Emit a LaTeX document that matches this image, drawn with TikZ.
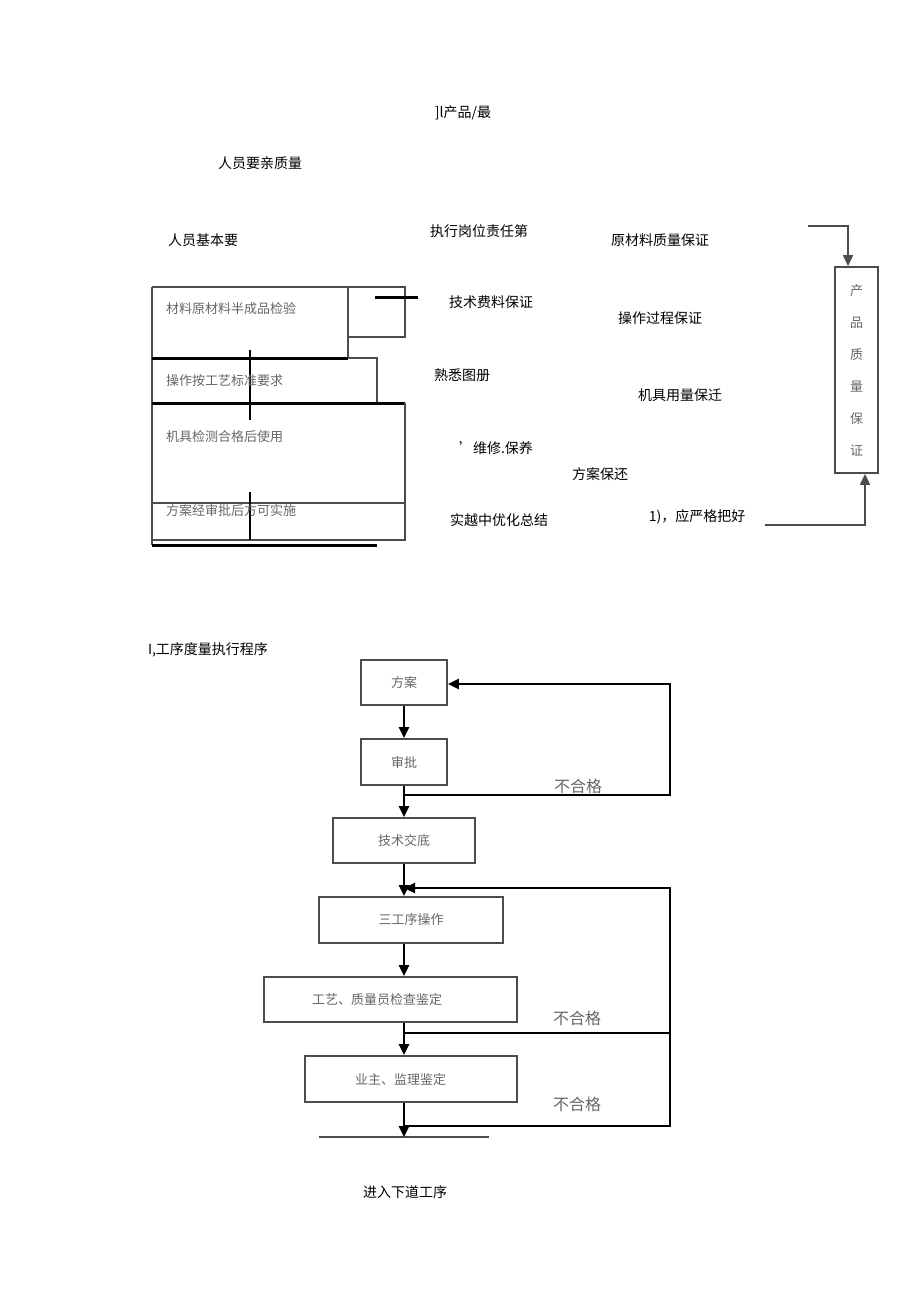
\documentclass[tikz,border=0pt]{standalone}
\usepackage{fontspec}
\setmainfont{Noto Sans CJK SC}
\usetikzlibrary{arrows.meta}
\begin{document}
\begin{tikzpicture}[x=1pt,y=-1pt,
 every node/.style={font=\fontsize{14}{16}\selectfont},
 lbl/.style={inner sep=0},
 gl/.style={inner sep=0,text=black!60,font=\fontsize{13}{15}\selectfont},
 bx/.style={draw=black!70,line width=1.8pt},
 thick line/.style={line width=3pt},
 ar/.style={line width=2.5pt,-{Triangle[length=11pt,width=10pt]}},
 fb/.style={line width=2.3pt}]
\useasboundingbox (0,0) rectangle (920,1301);
% texts top
\node[lbl] (t0) at (463,113) {]l产品/最};
\node[lbl] (t1) at (260,163) {人员要亲质量};
\node[lbl] (t2) at (203,240) {人员基本要};
\node[lbl] (t3) at (479,231) {执行岗位责任第};
\node[lbl] (t4) at (660,240) {原材料质量保证};
\node[lbl] (t5) at (491,302) {技术费料保证};
\node[lbl] (t6) at (660,318) {操作过程保证};
\node[lbl] (t7) at (462,375) {熟悉图册};
\node[lbl] (t8) at (680,395) {机具用量保迁};
\node[lbl] (t9) at (496,448) {'维修.保养};
\node[lbl] (t10) at (600,474) {方案保还};
\node[lbl] (t11) at (499,520) {实越中优化总结};
\node[lbl] (t12) at (697,517) {1)，应严格把好};
\node[lbl] (t13) at (208,650) {I,工序度量执行程序};
% left stacked boxes
\draw[bx] (152,287) -- (348,287) -- (348,358);
\draw[bx] (152,287) -- (152,545);
\draw[bx] (348,287) rectangle (405,337);
\draw[thick line] (375,297) -- (418,297);
\draw[thick line] (152,358) -- (348,358);
\draw[bx] (348,358) -- (377,358) -- (377,403);
\draw[thick line] (152,403) -- (405,403);
\draw[bx] (405,403) -- (405,540) -- (152,540);
\draw[bx] (152,503) -- (405,503);
\draw[thick line] (152,545) -- (377,545);
\draw[line width=2pt] (250,350) -- (250,420);
\draw[line width=2pt] (250,492) -- (250,540);
\node[gl,anchor=west] (b1) at (166,309) {材料原材料半成品检验};
\node[gl,anchor=west] (b2) at (166,381) {操作按工艺标准要求};
\node[gl,anchor=west] (b3) at (166,437) {机具检测合格后使用};
\node[gl,anchor=west] (b4) at (166,511) {方案经审批后方可实施};
% right box
\node[draw=black!70,line width=1.8pt,minimum width=43pt,minimum height=206pt,inner sep=0] (pq) at (856.5,370) {};
\node[gl,align=center,font=\fontsize{13}{32}\selectfont] (pqt) at (856.5,370) {产\\品\\质\\量\\保\\证};
\coordinate (c1) at (808,226);
\coordinate (c2) at (765,525);
\draw[draw=black!70,line width=1.8pt,-{Triangle[length=11pt,width=10pt]}] (c1) -- (848,226) -- (pq.north -| 848,0);
\draw[draw=black!70,line width=1.8pt,-{Triangle[length=11pt,width=10pt]}] (c2) -- (865,525) -- (pq.south -| 865,0);
% flowchart
\node[bx,minimum width=86pt,minimum height=45pt,inner sep=0] (f1) at (404,682.5) {};
\node[gl] at (f1) {方案};
\node[bx,minimum width=86pt,minimum height=46pt,inner sep=0] (f2) at (404,762) {};
\node[gl] at (f2) {审批};
\node[bx,minimum width=142pt,minimum height=45pt,inner sep=0] (f3) at (404,840.5) {};
\node[gl] at (f3) {技术交底};
\node[bx,minimum width=184pt,minimum height=46pt,inner sep=0] (f4) at (411,920) {};
\node[gl] at (f4) {三工序操作};
\node[bx,minimum width=253pt,minimum height=45pt,inner sep=0] (f5) at (390.5,999.5) {};
\node[gl,anchor=west] at (312,1000) {工艺、质量员检查鉴定};
\node[bx,minimum width=212pt,minimum height=46pt,inner sep=0] (f6) at (411,1079) {};
\node[gl,anchor=west] at (355,1080) {业主、监理鉴定};
\coordinate (f7a) at (319,1137);
\coordinate (f7b) at (489,1137);
\draw[bx] (f7a) -- (f7b);
\coordinate (f7) at (404,1137);
\node[lbl] (end) at (405,1192) {进入下道工序};
\draw[ar] (f1.south -| 404,0) -- (f2.north -| 404,0);
\draw[ar] (f2.south -| 404,0) -- (f3.north -| 404,0);
\draw[ar] (f3.south -| 404,0) -- (f4.north -| 404,0);
\draw[ar] (f4.south -| 404,0) -- (f5.north -| 404,0);
\draw[ar] (f5.south -| 404,0) -- (f6.north -| 404,0);
\draw[ar] (f6.south -| 404,0) -- (f7);
\draw[fb,-{Triangle[length=11pt,width=10pt]}] (404,795) -- (670,795) -- (670,684) -- (f1.east |- 0,684);
\draw[fb,-{Triangle[length=11pt,width=10pt]}] (404,1033) -- (670,1033) -- (670,888) -- (404,888);
\draw[fb] (404,1126) -- (670,1126) -- (670,1033);
\node[gl,font=\fontsize{16}{18}\selectfont] (n1) at (578,786) {不合格};
\node[gl,font=\fontsize{16}{18}\selectfont] (n2) at (577,1018) {不合格};
\node[gl,font=\fontsize{16}{18}\selectfont] (n3) at (577,1104) {不合格};
\end{tikzpicture}
\end{document}
